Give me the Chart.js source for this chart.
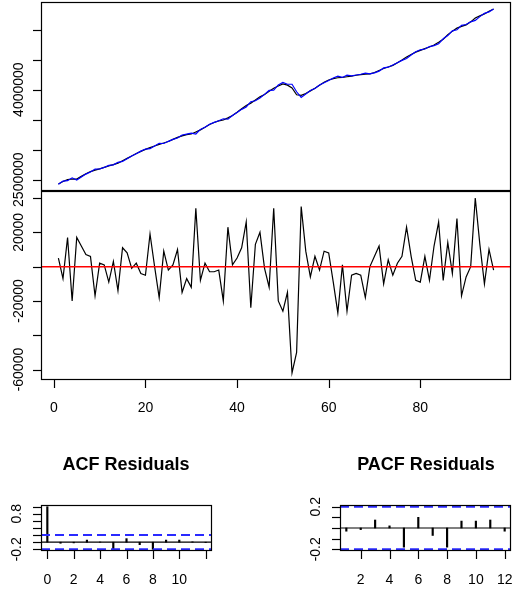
<!DOCTYPE html>
<html>
<head>
<meta charset="utf-8">
<script src="https://cdn.jsdelivr.net/npm/chart.js@4.4.1/dist/chart.umd.min.js"></script>
<style>
html,body{margin:0;padding:0;background:#ffffff;}
#wrap{position:relative;width:513px;height:589px;overflow:hidden;background:#ffffff;}
#wrap canvas{position:absolute;left:0;top:0;}
.title{position:absolute;top:455px;font:bold 18px "Liberation Sans",Arial,sans-serif;line-height:18px;color:#000;white-space:nowrap;transform:translateX(-50%);}
</style>
</head>
<body>
<div id="wrap">
  <canvas id="cLevel" width="513" height="589"></canvas>
  <canvas id="cResid" width="513" height="589"></canvas>
  <canvas id="cAcf" width="513" height="589"></canvas>
  <canvas id="cPacf" width="513" height="589"></canvas>
  <div class="title" style="left:126px;">ACF Residuals</div>
  <div class="title" style="left:426px;">PACF Residuals</div>
</div>
<script>
// ---------------- DATA ----------------
const timeIndex = Array.from({length: 96}, (_, i) => i + 1);

const actualSeries = [
  2428000,2470000,2500000,2511000,2510000,2555000,2600000,2635000,2660000,2680000,
  2705000,2730000,2750000,2775000,2815000,2855000,2895000,2935000,2972000,3005000,
  3035000,3062000,3088000,3112000,3137000,3172000,3205000,3230000,3252000,3262000,
  3295000,3330000,3375000,3420000,3452000,3480000,3495000,3530000,3570000,3625000,
  3683000,3737000,3775000,3828000,3880000,3920000,3975000,4025000,4060000,4095000,
  4075000,4028000,3915000,3905000,3935000,3980000,4025000,4075000,4125000,4161000,
  4185000,4198000,4205000,4215000,4225000,4240000,4252000,4258000,4262000,4285000,
  4320000,4352000,4378000,4405000,4450000,4494000,4543000,4585000,4625000,4655000,
  4683000,4710000,4745000,4790000,4840000,4915000,4975000,5025000,5055000,5080000,
  5130000,5194000,5230000,5262000,5305000,5344000
];

const fittedSeries = [
  2423000,2477000,2483000,2531000,2493000,2543000,2593000,2629000,2677000,2678000,
  2704000,2739000,2747000,2789000,2804000,2847000,2896000,2933000,2976000,3010000,
  3016000,3062000,3106000,3103000,3139000,3171000,3195000,3245000,3259000,3274000,
  3261000,3338000,3373000,3423000,3455000,3482000,3515000,3507000,3569000,3620000,
  3672000,3711000,3799000,3815000,3860000,3921000,3987000,3991000,4080000,4121000,
  4090000,4090000,3965000,3870000,3926000,3986000,4019000,4077000,4116000,4153000,
  4194000,4225000,4204000,4241000,4230000,4244000,4257000,4276000,4262000,4279000,
  4308000,4362000,4374000,4410000,4448000,4488000,4520000,4579000,4633000,4664000,
  4677000,4718000,4733000,4764000,4848000,4901000,4979000,4997000,5072000,5086000,
  5130000,5154000,5217000,5272000,5295000,5346000
];

const residualSeries = [
  5000,-7000,17000,-20000,17000,12000,7000,6000,-17000,2000,
  1000,-9000,3000,-14000,11000,8000,-1000,2000,-4000,-5000,
  19000,0,-18000,9000,-2000,1000,10000,-15000,-7000,-12000,
  34000,-8000,2000,-3000,-3000,-2000,-20000,23000,1000,5000,
  11000,26000,-24000,13000,20000,-1000,-12000,34000,-20000,-26000,
  -15000,-62000,-50000,35000,9000,-6000,6000,-2000,9000,8000,
  -9000,-27000,1000,-26000,-5000,-4000,-5000,-18000,0,6000,
  12000,-10000,4000,-5000,2000,6000,23000,6000,-8000,-9000,
  6000,-8000,12000,26000,-8000,14000,-4000,28000,-17000,-6000,
  0,40000,13000,-10000,10000,-2000
];

const levelTicks       = [2500000, 3000000, 3500000, 4000000, 4500000, 5000000];
const levelTickLabels  = ['2500000', '', '', '4000000', '', ''];
const residTicks       = [-60000, -40000, -20000, 0, 20000, 40000];
const residTickLabels  = ['-60000', '', '-20000', '', '20000', ''];
const timeTicks        = [0, 20, 40, 60, 80];
const timeTickLabels   = ['0', '20', '40', '60', '80'];

const acfLags   = [0, 1, 2, 3, 4, 5, 6, 7, 8, 9, 10, 11, 12];
const acfValues = [1.0, -0.03, -0.02, 0.06, 0.005, -0.2, 0.1, -0.07, -0.2, 0.06, 0.06, 0.01, -0.01];
const acfYTicks       = [-0.2, 0, 0.2, 0.4, 0.6, 0.8, 1.0];
const acfYTickLabels  = ['-0.2', '', '', '', '', '0.8', ''];
const acfXTicks       = [0, 2, 4, 6, 8, 10, 12];
const acfXTickLabels  = ['0', '2', '4', '6', '8', '10', ''];

const pacfLags   = [1, 2, 3, 4, 5, 6, 7, 8, 9, 10, 11, 12];
const pacfValues = [-0.03, -0.015, 0.075, 0.02, -0.18, 0.1, -0.07, -0.18, 0.065, 0.065, 0.075, -0.03];
const pacfYTicks      = [-0.2, -0.1, 0, 0.1, 0.2];
const pacfYTickLabels = ['-0.2', '', '', '', '0.2'];
const pacfXTicks      = [2, 4, 6, 8, 10, 12];
const pacfXTickLabels = ['2', '4', '6', '8', '10', '12'];

const confLimit = 0.2;

// ---------------- HELPERS ----------------
const W = 513, H = 589;
const FONT = '14px "Liberation Sans", Arial, sans-serif';
function rRange(lo, hi) { const d = (hi - lo) * 0.04; return [lo - d, hi + d]; }
const minOf = a => Math.min.apply(null, a), maxOf = a => Math.max.apply(null, a);

const rPanel = {
  id: 'rPanel',
  afterDatasetsDraw(chart, args, o) {
    const ctx = chart.ctx, a = chart.chartArea, xs = chart.scales.x, ys = chart.scales.y;
    ctx.save();
    // reference lines
    (o.hlines || []).forEach(h => {
      const y = ys.getPixelForValue(h.y);
      ctx.beginPath();
      ctx.strokeStyle = h.color; ctx.lineWidth = h.width;
      ctx.setLineDash(h.dash || []);
      ctx.moveTo(a.left, y); ctx.lineTo(a.right, y); ctx.stroke();
    });
    ctx.setLineDash([]);
    // box
    ctx.strokeStyle = '#000'; ctx.lineWidth = 1.2;
    ctx.strokeRect(a.left + 0.5, a.top + 0.5, a.right - a.left - 1, a.bottom - a.top - 1);
    ctx.fillStyle = '#000'; ctx.font = FONT;
    // y axis
    if (o.yTicks) {
      ctx.lineWidth = 1.2;
      o.yTicks.forEach((v, i) => {
        const y = Math.round(ys.getPixelForValue(v)) + 0.5;
        ctx.beginPath(); ctx.moveTo(a.left - 8, y); ctx.lineTo(a.left, y); ctx.stroke();
        const lab = o.yLabels[i];
        if (lab) {
          ctx.save();
          ctx.translate(a.left - o.yLabOff, ys.getPixelForValue(v));
          ctx.rotate(-Math.PI / 2);
          ctx.textAlign = 'center'; ctx.textBaseline = 'alphabetic';
          ctx.fillText(lab, 0, 0);
          ctx.restore();
        }
      });
    }
    // x axis
    if (o.xTicks) {
      ctx.lineWidth = 1.2;
      o.xTicks.forEach((v, i) => {
        const x = Math.round(xs.getPixelForValue(v)) + 0.5;
        ctx.beginPath(); ctx.moveTo(x, a.bottom); ctx.lineTo(x, a.bottom + 8); ctx.stroke();
        const lab = o.xLabels[i];
        if (lab) {
          ctx.textAlign = 'center'; ctx.textBaseline = 'alphabetic';
          ctx.fillText(lab, xs.getPixelForValue(v), o.xLabY);
        }
      });
    }
    ctx.restore();
  }
};

function makeChart(id, type, box, xr, yr, datasets, panel) {
  return new Chart(document.getElementById(id), {
    type: type,
    data: { datasets: datasets },
    options: {
      responsive: false, animation: false, events: [],
      devicePixelRatio: 1,
      layout: { padding: { left: box.l, top: box.t, right: W - box.r, bottom: H - box.b } },
      scales: {
        x: { type: 'linear', display: false, min: xr[0], max: xr[1], offset: false },
        y: { type: 'linear', display: false, min: yr[0], max: yr[1] }
      },
      plugins: { legend: { display: false }, tooltip: { enabled: false }, title: { display: false }, rPanel: panel },
      elements: { point: { radius: 0 }, line: { tension: 0 } }
    },
    plugins: [rPanel]
  });
}
const pts = (xs, ys) => xs.map((x, i) => ({ x: x, y: ys[i] }));

// ---------------- CHARTS ----------------
const timeRange = rRange(minOf(timeIndex), maxOf(timeIndex));

makeChart('cLevel', 'line', { l: 41, t: 2, r: 511, b: 191 }, timeRange,
  rRange(minOf(actualSeries), maxOf(actualSeries)),
  [
    { data: pts(timeIndex, fittedSeries), borderColor: '#0000ff', borderWidth: 1.2, order: 0 },
    { data: pts(timeIndex, actualSeries), borderColor: '#000000', borderWidth: 1.2, order: 1 }
  ],
  { yTicks: levelTicks, yLabels: levelTickLabels, yLabOff: 18 });

makeChart('cResid', 'line', { l: 41, t: 191, r: 511, b: 380 }, timeRange,
  rRange(minOf(residualSeries), maxOf(residualSeries)),
  [ { data: pts(timeIndex, residualSeries), borderColor: '#000000', borderWidth: 1.2 } ],
  { yTicks: residTicks, yLabels: residTickLabels, yLabOff: 18,
    xTicks: timeTicks, xLabels: timeTickLabels, xLabY: 412,
    hlines: [ { y: 0, color: '#ff0000', width: 1.5 } ] });

makeChart('cAcf', 'bar', { l: 41, t: 505, r: 212, b: 551 },
  rRange(minOf(acfLags), maxOf(acfLags)),
  rRange(Math.min(minOf(acfValues), -confLimit), Math.max(maxOf(acfValues), confLimit)),
  [ { data: pts(acfLags, acfValues), backgroundColor: '#000000', barThickness: 1.5, grouped: false } ],
  { yTicks: acfYTicks, yLabels: acfYTickLabels, yLabOff: 20,
    xTicks: acfXTicks, xLabels: acfXTickLabels, xLabY: 584,
    hlines: [ { y: 0, color: '#000000', width: 1.2 },
              { y: confLimit, color: '#2a2aff', width: 2, dash: [9, 5] },
              { y: -confLimit, color: '#2a2aff', width: 2, dash: [9, 5] } ] });

makeChart('cPacf', 'bar', { l: 340, t: 505, r: 511, b: 551 },
  rRange(minOf(pacfLags), maxOf(pacfLags)),
  rRange(Math.min(minOf(pacfValues), -confLimit), Math.max(maxOf(pacfValues), confLimit)),
  [ { data: pts(pacfLags, pacfValues), backgroundColor: '#000000', barThickness: 1.5, grouped: false } ],
  { yTicks: pacfYTicks, yLabels: pacfYTickLabels, yLabOff: 20,
    xTicks: pacfXTicks, xLabels: pacfXTickLabels, xLabY: 584,
    hlines: [ { y: 0, color: '#000000', width: 1.2 },
              { y: confLimit, color: '#2a2aff', width: 2, dash: [9, 5] },
              { y: -confLimit, color: '#2a2aff', width: 2, dash: [9, 5] } ] });
</script>
</body>
</html>
